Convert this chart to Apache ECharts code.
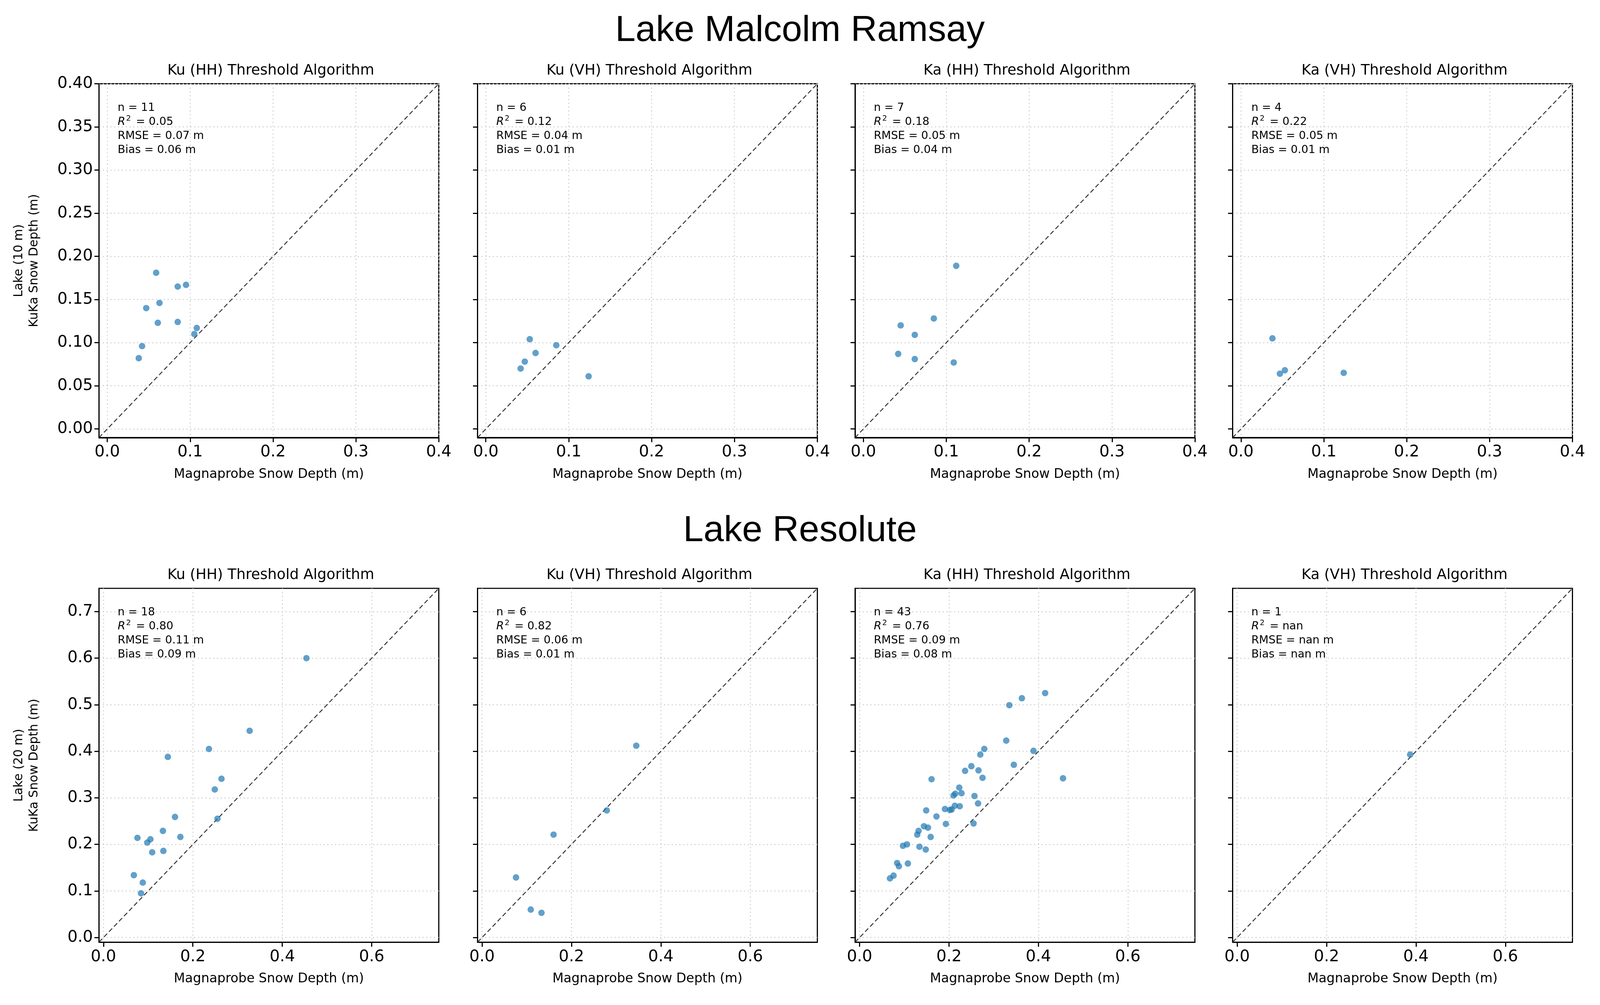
<!DOCTYPE html>
<html>
<head>
<meta charset="utf-8">
<script src="https://cdn.jsdelivr.net/npm/echarts@6/dist/echarts.min.js"></script>
<style>html,body{margin:0;padding:0;background:#fff;overflow:hidden}#eChart{width:100vw;height:100vh}</style>
</head>
<body>
<div id="eChart"></div>
<script>
// panel titles and annotations
var panelTitles = ['Ku (HH) Threshold Algorithm', 'Ku (VH) Threshold Algorithm',
                   'Ka (HH) Threshold Algorithm', 'Ka (VH) Threshold Algorithm'];
var rowTitles = ['Lake Malcolm Ramsay', 'Lake Resolute'];
var rowYLabels = ['Lake (10 m)\nKuKa Snow Depth (m)', 'Lake (20 m)\nKuKa Snow Depth (m)'];
var statsN = [[11, 6, 7, 4], [18, 6, 43, 1]];
var statsR2 = [['0.05', '0.12', '0.18', '0.22'], ['0.80', '0.82', '0.76', 'nan']];
var statsRMSE = [['0.07', '0.04', '0.05', '0.05'], ['0.11', '0.06', '0.09', 'nan']];
var statsBias = [['0.06', '0.01', '0.04', '0.01'], ['0.09', '0.01', '0.08', 'nan']];

// axis limits and ticks
var rowLimits = [[-0.01, 0.40], [-0.01, 0.75]];
var xTicksTop = [0, 0.1, 0.2, 0.3, 0.4];
var yTicksTop = [0, 0.05, 0.1, 0.15, 0.2, 0.25, 0.3, 0.35, 0.4];
var xTicksBottom = [0, 0.2, 0.4, 0.6];
var yTicksBottom = [0, 0.1, 0.2, 0.3, 0.4, 0.5, 0.6, 0.7];
var yDecimals = [2, 1];

// Lake Malcolm Ramsay  [magnaprobe, kuka]
var malcolmKuHH = [[0.059,0.181],[0.085,0.165],[0.095,0.167],[0.063,0.146],[0.047,0.140],[0.061,0.123],
                   [0.085,0.124],[0.108,0.117],[0.105,0.110],[0.042,0.096],[0.038,0.082]];
var malcolmKuVH = [[0.053,0.104],[0.085,0.097],[0.060,0.088],[0.047,0.078],[0.042,0.070],[0.124,0.061]];
var malcolmKaHH = [[0.112,0.189],[0.085,0.128],[0.045,0.120],[0.062,0.109],[0.042,0.087],[0.062,0.081],[0.109,0.077]];
var malcolmKaVH = [[0.038,0.105],[0.047,0.064],[0.053,0.068],[0.124,0.065]];

// Lake Resolute
var resoluteKuHH = [[0.454,0.600],[0.327,0.444],[0.236,0.405],[0.144,0.388],[0.264,0.341],[0.249,0.318],
                    [0.160,0.259],[0.255,0.255],[0.133,0.229],[0.172,0.216],[0.076,0.214],[0.105,0.211],
                    [0.098,0.204],[0.109,0.183],[0.134,0.186],[0.068,0.134],[0.088,0.118],[0.084,0.095]];
var resoluteKuVH = [[0.345,0.412],[0.279,0.273],[0.160,0.221],[0.076,0.129],[0.109,0.060],[0.133,0.053]];
var resoluteKaHH = [[0.068,0.127],[0.076,0.133],[0.084,0.160],[0.088,0.153],[0.108,0.159],[0.097,0.197],
                    [0.106,0.200],[0.134,0.195],[0.148,0.189],[0.129,0.221],[0.132,0.229],[0.144,0.239],
                    [0.153,0.236],[0.159,0.216],[0.149,0.273],[0.161,0.340],[0.172,0.260],[0.193,0.244],
                    [0.191,0.276],[0.202,0.274],[0.206,0.275],[0.213,0.283],[0.224,0.282],[0.210,0.305],
                    [0.214,0.309],[0.228,0.310],[0.223,0.322],[0.255,0.245],[0.257,0.304],[0.265,0.288],
                    [0.236,0.358],[0.250,0.368],[0.266,0.359],[0.275,0.343],[0.270,0.393],[0.279,0.405],
                    [0.328,0.423],[0.345,0.371],[0.389,0.401],[0.455,0.342],[0.335,0.499],[0.363,0.514],
                    [0.415,0.525]];
var resoluteKaVH = [[0.387,0.393]];

var panelData = [[malcolmKuHH, malcolmKuVH, malcolmKaHH, malcolmKaVH],
                 [resoluteKuHH, resoluteKuVH, resoluteKaHH, resoluteKaVH]];

(function(){
    var chart = echarts.init(document.getElementById('eChart'));
    // layout measured on a 1568x960 copy of the figure
    var S = chart.getWidth() / 1568;
    var Sy = chart.getHeight() / 960;
    var F = Math.min(S, Sy) / 2.681;
    var colLeft = [97, 468, 838, 1208];
    var panelW = 333;
    var rowTop = [80, 562];
    var panelH = 338;
    var font = 'DejaVu Sans';

    var grids = [], xAxes = [], yAxes = [], series = [], titles = [];

    titles.push({text: rowTitles[0], left: 'center', top: 10 * Sy,
        textStyle: {fontFamily: 'Liberation Sans', fontSize: 96 * F, fontWeight: 'normal', color: '#000'}});
    titles.push({text: rowTitles[1], left: 'center', top: 488 * Sy,
        textStyle: {fontFamily: 'Liberation Sans', fontSize: 96 * F, fontWeight: 'normal', color: '#000'}});

    function fmt(d) { return function (v) { return v.toFixed(d); }; }

    for (var r = 0; r < 2; r++) {
        var lim = rowLimits[r];
        var xt = r === 0 ? xTicksTop : xTicksBottom;
        var yt = r === 0 ? yTicksTop : yTicksBottom;
        for (var c = 0; c < 4; c++) {
            var idx = r * 4 + c;
            var L = colLeft[c] * S, T = rowTop[r] * Sy;
            var W = panelW * S, H = panelH * Sy;
            grids.push({left: L, top: T, width: W, height: H, show: true,
                borderColor: '#000', borderWidth: 3 * F, backgroundColor: '#fff'});

            var tickStyle = {show: true, inside: false, length: 12 * F, lineStyle: {color: '#000', width: 3 * F}};
            var gridLine = {show: true, lineStyle: {color: '#cccccc', width: 2.5 * F, type: [3 * F, 7 * F]}};
            xAxes.push({
                type: 'value', gridIndex: idx, min: lim[0], max: lim[1],
                name: 'Magnaprobe Snow Depth (m)', nameLocation: 'middle', nameGap: 80 * F,
                nameTextStyle: {fontFamily: font, fontSize: 34 * F, color: '#000'},
                axisLine: {show: true, onZero: false, lineStyle: {color: '#000', width: 3 * F}},
                axisTick: Object.assign({customValues: xt}, tickStyle),
                axisLabel: {customValues: xt, fontFamily: font, fontSize: 42 * F, color: '#000', margin: 18 * F,
                    formatter: fmt(1)},
                splitLine: gridLine
            });
            yAxes.push({
                type: 'value', gridIndex: idx, min: lim[0], max: lim[1],
                name: c === 0 ? rowYLabels[r] : '', nameLocation: 'middle', nameGap: 150 * F,
                nameTextStyle: {fontFamily: font, fontSize: 32 * F, color: '#000', lineHeight: 40 * F},
                axisLine: {show: true, onZero: false, lineStyle: {color: '#000', width: 3 * F}},
                axisTick: Object.assign({customValues: yt}, tickStyle),
                axisLabel: {show: c === 0, customValues: yt, fontFamily: font, fontSize: 42 * F, color: '#000',
                    margin: 16 * F, formatter: fmt(yDecimals[r])},
                splitLine: gridLine
            });

            series.push({
                type: 'line', xAxisIndex: idx, yAxisIndex: idx, symbol: 'none', silent: true,
                lineStyle: {color: '#333', width: 2.5 * F, type: [12 * F, 7 * F]},
                data: [[lim[0], lim[0]], [lim[1], lim[1]]], z: 2
            });
            series.push({
                type: 'scatter', xAxisIndex: idx, yAxisIndex: idx, symbolSize: 17 * F,
                itemStyle: {color: '#1f77b4', opacity: 0.7},
                data: panelData[r][c], z: 3
            });

            titles.push({
                text: panelTitles[c], left: L + W / 2, top: T - 58 * F, textAlign: 'center',
                textStyle: {fontFamily: font, fontSize: 38 * F, fontWeight: 'normal', color: '#000'}
            });
            titles.push({
                text: 'n = ' + statsN[r][c] + '\n{i|R}{s|2} = ' + statsR2[r][c] +
                      '\nRMSE = ' + statsRMSE[r][c] + ' m\nBias = ' + statsBias[r][c] + ' m',
                left: L + 44 * F, top: T + 40 * F,
                textStyle: {fontFamily: font, fontSize: 29 * F, fontWeight: 'normal', color: '#000', lineHeight: 37 * F,
                    rich: {i: {fontFamily: font, fontSize: 29 * F, fontStyle: 'italic', lineHeight: 37 * F},
                           s: {fontFamily: font, fontSize: 20 * F, verticalAlign: 'top', lineHeight: 37 * F,
                               padding: [0, 4 * F, 12 * F, 2 * F]}}}
            });
        }
    }

    chart.setOption({
        animation: false,
        backgroundColor: '#fff',
        title: titles,
        grid: grids,
        xAxis: xAxes,
        yAxis: yAxes,
        series: series
    });
})();
</script>
</body>
</html>
